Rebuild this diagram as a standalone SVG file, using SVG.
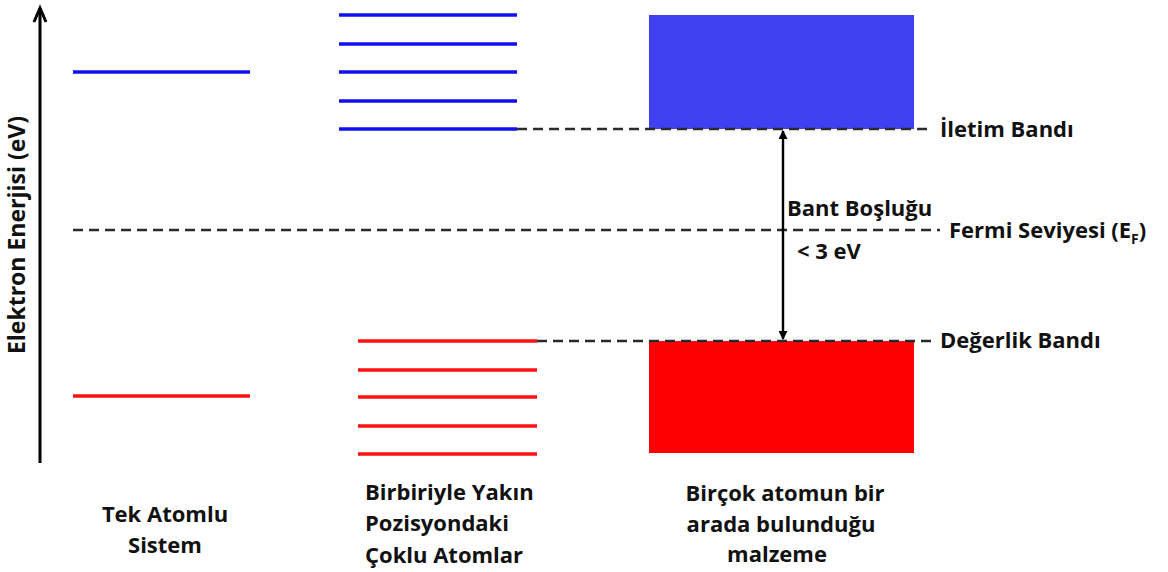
<svg xmlns="http://www.w3.org/2000/svg" width="1168" height="572" viewBox="0 0 1168 572">
<defs>
<style>
text{font-family:"Open Sans","Liberation Sans",sans-serif;font-weight:bold;font-size:22px;fill:#111}
.blue{stroke:#1010F0;stroke-width:3.5;fill:none}
.red{stroke:#FF1010;stroke-width:3.5;fill:none}
.dash{stroke:#2a2a2a;stroke-width:2.6;stroke-dasharray:10,6;fill:none}
.mid{text-anchor:middle}
</style>
<marker id="ah" viewBox="0 0 10 10" refX="9" refY="5" markerWidth="11" markerHeight="9" markerUnits="userSpaceOnUse" orient="auto-start-reverse">
<path d="M0,0 L10,5 L0,10 z" fill="#000"/>
</marker>
</defs>
<rect width="1168" height="572" fill="#fff"/>
<g id="axis">
<line x1="40" y1="463" x2="40" y2="8" stroke="#000" stroke-width="3"/>
<path d="M34,22 L40,8 L46,22" stroke="#000" stroke-width="3" fill="none" stroke-linejoin="miter"/>
<text transform="translate(25,235) rotate(-90)" class="mid" style="font-size:23px">Elektron Enerjisi (eV)</text>
</g>
<g id="single-atom">
<line class="blue" x1="73" y1="72" x2="250" y2="72"/>
<line class="red" x1="73" y1="396" x2="250" y2="396"/>
<text class="mid" x="165" y="522">Tek Atomlu</text>
<text class="mid" x="165" y="553">Sistem</text>
</g>
<g id="multi-atoms">
<line class="blue" x1="339" y1="15" x2="517" y2="15"/>
<line class="blue" x1="339" y1="44" x2="517" y2="44"/>
<line class="blue" x1="339" y1="72" x2="517" y2="72"/>
<line class="blue" x1="339" y1="101" x2="517" y2="101"/>
<line class="blue" x1="339" y1="129" x2="517" y2="129"/>
<line class="red" x1="358" y1="341" x2="537" y2="341"/>
<line class="red" x1="358" y1="370" x2="537" y2="370"/>
<line class="red" x1="358" y1="397" x2="537" y2="397"/>
<line class="red" x1="358" y1="426" x2="537" y2="426"/>
<line class="red" x1="358" y1="454" x2="537" y2="454"/>
<text x="365" y="500">Birbiriyle Yakın</text>
<text x="365" y="531">Pozisyondaki</text>
<text x="365" y="563">Çoklu Atomlar</text>
</g>
<g id="material">
<rect x="649" y="15" width="265" height="114" fill="#4040F0"/>
<rect x="649" y="341" width="265" height="112" fill="#FF0000"/>
<text class="mid" x="785" y="501">Birçok atomun bir</text>
<text class="mid" x="781" y="532">arada bulunduğu</text>
<text class="mid" x="777" y="562">malzeme</text>
</g>
<g id="connectors">
<line class="dash" x1="517" y1="129" x2="932" y2="129"/>
<line class="dash" x1="73" y1="230" x2="940" y2="230"/>
<line class="dash" x1="537" y1="341" x2="932" y2="341"/>
<line x1="783" y1="131" x2="783" y2="339" stroke="#000" stroke-width="2.4" marker-start="url(#ah)" marker-end="url(#ah)"/>
</g>
<g id="labels">
<text x="940" y="137">İletim Bandı</text>
<text x="949" y="238">Fermi Seviyesi (E<tspan font-size="14" dy="6">F</tspan><tspan dy="-6">)</tspan></text>
<text x="940" y="348">Değerlik Bandı</text>
<text x="787" y="216">Bant Boşluğu</text>
<text x="797" y="259">&lt; 3 eV</text>
</g>
</svg>
